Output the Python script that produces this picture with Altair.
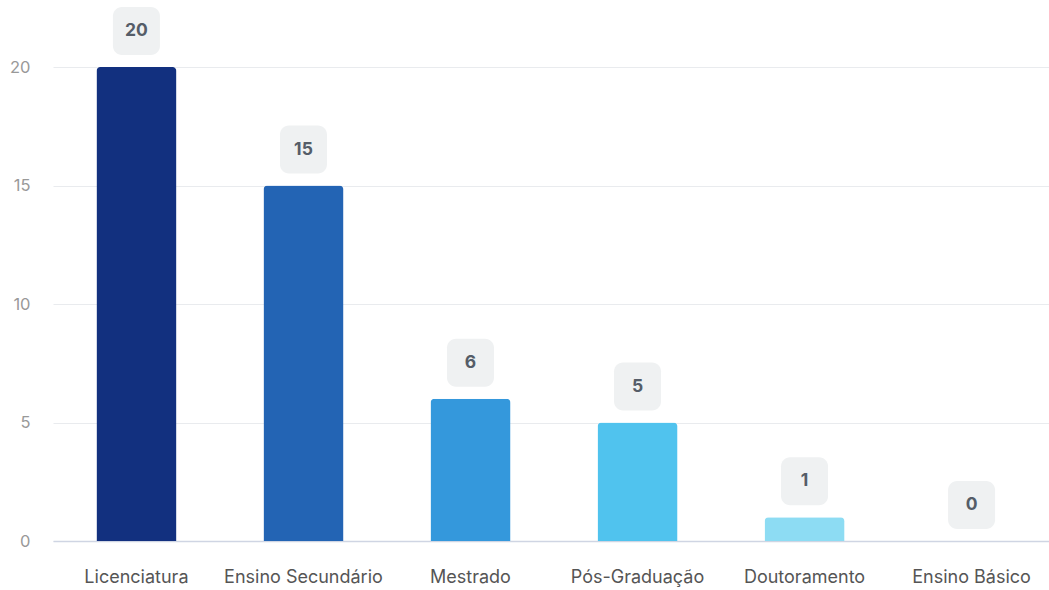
import altair as alt
import pandas as pd

categories = ["Licenciatura", "Ensino Secundário", "Mestrado", "Pós-Graduação", "Doutoramento", "Ensino Básico"]
values = [20, 15, 6, 5, 1, 0]
colors = ["#12307f", "#2364b4", "#3498dc", "#50c3ee", "#8ddcf3", "#c8eefa"]

df = pd.DataFrame({"cat": categories, "value": values, "color": colors})

x = alt.X("cat:N", sort=categories, title=None,
          scale=alt.Scale(paddingInner=0.521, paddingOuter=0.26, range=[0, 1002]),
          axis=alt.Axis(labelAngle=0, labelFont="Inter", labelFontSize=18, labelColor="#555555",
                        labelPadding=27, ticks=False, domain=True, domainColor="#cfd5e3", domainWidth=1.5,
                        grid=False))
y = alt.Y("value:Q", title=None, scale=alt.Scale(domain=[0, 20], nice=False),
          axis=alt.Axis(values=[0, 5, 10, 15, 20], labelFont="Inter", labelFontSize=16.5, labelColor="#999999",
                        labelPadding=23, ticks=False, domain=False, gridColor="#e9ebee", gridWidth=1))

bars = alt.Chart(df).mark_bar(cornerRadiusTopLeft=4, cornerRadiusTopRight=4).encode(
    x=x, y=y, color=alt.Color("color:N", scale=None)
)

boxes = alt.Chart(df).mark_bar(width=47, cornerRadius=9, color="#eff1f2", yOffset=-12, y2Offset=-60).encode(
    x=alt.X("cat:N", sort=categories), y=alt.Y("value:Q"), y2="value:Q"
)

texts = alt.Chart(df).mark_text(font="Inter", fontSize=17.5, fontWeight="bold", color="#555d68",
                                yOffset=-36, baseline="middle").encode(
    x=alt.X("cat:N", sort=categories), y=alt.Y("value:Q"), text="value:Q"
)

chart = alt.layer(bars, boxes, texts).properties(
    width=996, height=474,
    autosize=alt.AutoSizeParams(type="none"),
    padding={"left": 53, "top": 67, "right": 0, "bottom": 49},
    background="white",
).configure_view(stroke=None)

chart.save("out.html", embed_options={"renderer": "svg", "actions": False})
